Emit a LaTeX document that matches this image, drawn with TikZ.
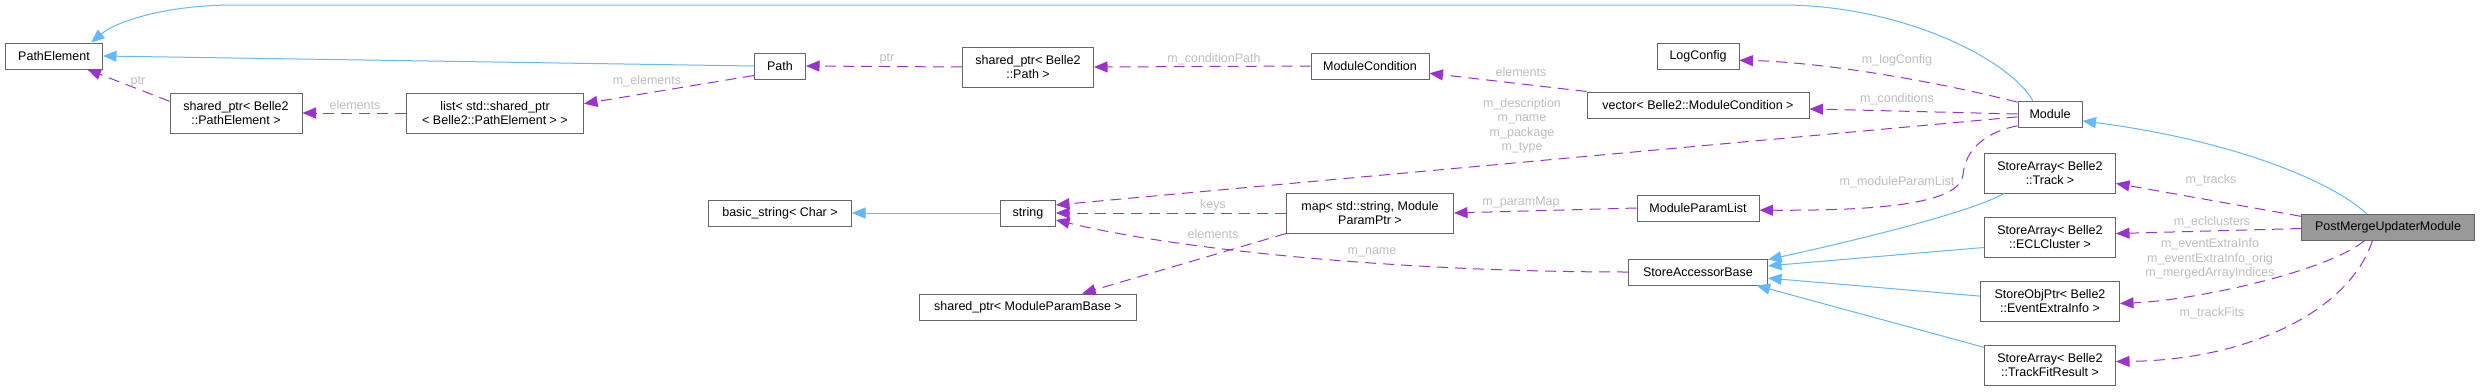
\documentclass[tikz,border=0pt]{standalone}
\usepackage{fontspec}
\setmainfont{Liberation Sans}
\usetikzlibrary{arrows.meta}
\definecolor{boxgrey}{HTML}{666666}
\definecolor{inhcol}{HTML}{63B8FF}
\definecolor{usecol}{HTML}{9A32CD}
\definecolor{lblcol}{HTML}{BEBEBE}
\definecolor{mainfill}{HTML}{999999}
\newcommand{\dfont}{\fontsize{12.5}{14.5}\selectfont}
\begin{document}
\begin{tikzpicture}[x=1pt,y=-1pt,
 box/.style={draw=boxgrey, line width=1pt, fill=white, inner sep=0pt, align=center, font=\dfont, anchor=center},
 one/.style={minimum height=26pt},
 two/.style={minimum height=40pt},
 lab/.style={text=lblcol, font=\dfont, align=center, inner sep=0pt},
 inhline/.style={draw=inhcol, line width=1pt, -{Triangle[length=13.5pt,width=11pt,fill=inhcol]}},
 useline/.style={draw=usecol, line width=1pt, dash pattern=on 11pt off 7pt, -{Triangle[length=13.5pt,width=11pt,fill=usecol]}},
]
\fill[white] (0,0) rectangle (2481,391);
\useasboundingbox (0,0) rectangle (2481,391);

% nodes
\node[box,one,minimum width=97pt] (PE) at (54,56) {PathElement};
\node[box,two,minimum width=132pt] (spPE) at (236,113) {shared\_ptr< Belle2\\::PathElement >};
\node[box,two,minimum width=177pt] (list) at (495,113) {list< std::shared\_ptr\\< Belle2::PathElement > >};
\node[box,one,minimum width=51pt] (path) at (780,66) {Path};
\node[box,two,minimum width=131pt] (spPath) at (1028,67) {shared\_ptr< Belle2\\::Path >};
\node[box,one,minimum width=118pt] (mc) at (1370,66) {ModuleCondition};
\node[box,one,minimum width=82pt] (log) at (1698,56) {LogConfig};
\node[box,one,minimum width=222pt] (vec) at (1698,105) {vector< Belle2::ModuleCondition >};
\node[box,one,minimum width=64pt] (module) at (2050,114) {Module};
\node[box,two,minimum width=131pt] (sat) at (2050,173) {StoreArray< Belle2\\::Track >};
\node[box,one,minimum width=143pt] (bstr) at (780,213) {basic\_string< Char >};
\node[box,one,minimum width=55pt] (str) at (1028,213) {string};
\node[box,two,minimum width=167pt] (map) at (1370,213) {map< std::string, Module\\ParamPtr >};
\node[box,one,minimum width=122pt] (mpl) at (1698,208) {ModuleParamList};
\node[box,one,minimum width=139pt] (sab) at (1698,272) {StoreAccessorBase};
\node[box,one,minimum width=217pt] (spMPB) at (1028,307) {shared\_ptr< ModuleParamBase >};
\node[box,two,minimum width=131pt] (sae) at (2050,237) {StoreArray< Belle2\\::ECLCluster >};
\node[box,two,minimum width=139pt] (sop) at (2050,301) {StoreObjPtr< Belle2\\::EventExtraInfo >};
\node[box,two,minimum width=131pt] (satf) at (2050,365) {StoreArray< Belle2\\::TrackFitResult >};
\node[box,one,minimum width=173pt,fill=mainfill] (pmu) at (2388,227) {PostMergeUpdaterModule};

% inheritance
\draw[inhline] (module.142) .. controls (2008,58) and (1900,5) .. (1782,5) -- (233,5) .. controls (170,5) and (118,20) .. (PE.20);
\draw[inhline] (path.west) -- (PE.east);
\draw[inhline] (str.west) -- (bstr.east);
\draw[inhline] (sat.-156) .. controls (1975,210) and (1880,235) .. (sab.10);
\draw[inhline] (sae.-171) -- (sab.5);
\draw[inhline] (sop.176) -- (sab.-5);
\draw[inhline] (satf.165) -- (sab.-13);
\draw[inhline] (pmu.148) .. controls (2330,180) and (2230,140) .. (module.-12);

% usage
\draw[useline] (spPE.170) -- (PE.-22);
\draw[useline] (list.west) -- (spPE.east);
\draw[useline] (path.-160) -- (list.6);
\draw[useline] (spPath.west) -- (path.east);
\draw[useline] (mc.west) -- (spPath.east);
\draw[useline] (vec.north west) -- (mc.-7);
\draw[useline] (module.160) .. controls (1930,80) and (1820,62) .. (log.-6);
\draw[useline] (module.west) -- (vec.-2);
\draw[useline] (module.-175) -- (str.16);
\draw[useline] (module.-160) .. controls (1985,132) and (1965,150) .. (1963,175) .. controls (1960,200) and (1900,211) .. (mpl.-2);
\draw[useline] (map.west) -- (str.east);
\draw[useline] (map.south west) -- (spMPB.14);
\draw[useline] (mpl.west) -- (map.east);
\draw[useline] (sab.west) .. controls (1400,272) and (1180,250) .. (str.-14);
\draw[useline] (pmu.173) -- (sat.-9);
\draw[useline] (pmu.-179) -- (sae.3);
\draw[useline] (pmu.-150) .. controls (2330,270) and (2200,300) .. (sop.-2);
\draw[useline] (pmu.-139) .. controls (2350,310) and (2250,360) .. (satf.3);

% labels
\node[lab] (l1) at (138,82) {ptr};
\node[lab] (l2) at (355,105) {elements};
\node[lab] (l3) at (647,81) {m\_elements};
\node[lab] (l4) at (887,59) {ptr};
\node[lab] (l5) at (1214,59) {m\_conditionPath};
\node[lab] (l6) at (1521,72) {elements};
\node[lab] (l7) at (1522,126) {m\_description\\m\_name\\m\_package\\m\_type};
\node[lab] (l8) at (1897,60) {m\_logConfig};
\node[lab] (l9) at (1897,99) {m\_conditions};
\node[lab] (l10) at (1897,182) {m\_moduleParamList};
\node[lab] (l11) at (1213,205) {keys};
\node[lab] (l12) at (1213,234) {elements};
\node[lab] (l13) at (1521,202) {m\_paramMap};
\node[lab] (l14) at (1372,252) {m\_name};
\node[lab] (l15) at (2211,180) {m\_tracks};
\node[lab] (l16) at (2212,222) {m\_eclclusters};
\node[lab] (l17) at (2210,259) {m\_eventExtraInfo\\m\_eventExtraInfo\_orig\\m\_mergedArrayIndices};
\node[lab] (l18) at (2212,313) {m\_trackFits};
\end{tikzpicture}
\end{document}
